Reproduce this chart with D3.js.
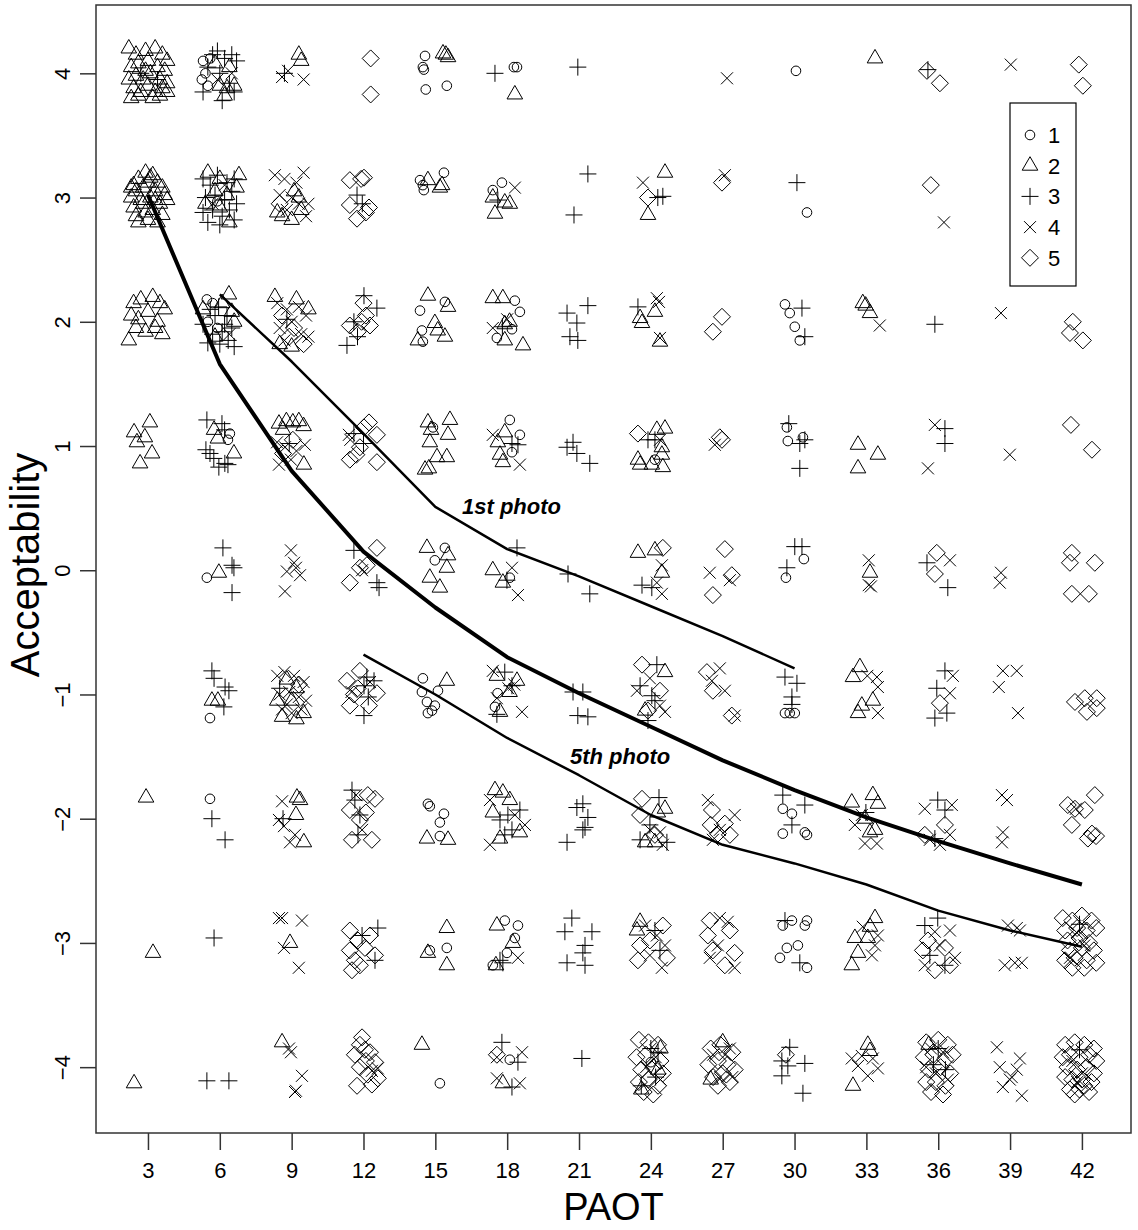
<!DOCTYPE html>
<html>
<head>
<meta charset="utf-8">
<script src="https://cdn.jsdelivr.net/npm/d3@7"></script>
<style>
  html, body { margin: 0; padding: 0; background: #fff; }
  svg { display: block; }
  text { font-family: "Liberation Sans", Arial, sans-serif; fill: #000; }
</style>
</head>
<body>
<svg id="chart" width="1138" height="1230"></svg>
<script>
// Axis ticks
const paotTicks = [3, 6, 9, 12, 15, 18, 21, 24, 27, 30, 33, 36, 39, 42];
const accTicks = [-4, -3, -2, -1, 0, 1, 2, 3, 4];

// Observations (PAOT, Acceptability), jittered, by respondent group
const group1 = [
  [5.3,4.1],[5.4,4.0],[5.25,3.95],[5.6,4.12],[5.5,3.9],[14.57,4.14],[14.48,4.05],[14.52,4.03],[14.6,3.87],[15.48,3.9],[18.28,4.05],[18.41,4.05],[30.06,4.02],
  [5.9,2.97],[14.36,3.14],[14.52,3.06],[14.48,3.1],[15.36,3.2],[17.4,3.06],[17.78,3.12],[30.52,2.88],
  [5.46,2.18],[5.7,2.15],[5.5,2.0],[5.9,1.95],[14.36,2.09],[15.4,2.16],[14.44,1.93],[14.48,1.84],[18.32,2.17],[18.2,1.94],[17.57,1.87],[18.53,2.08],[29.6,2.14],[29.8,2.07],[30.01,1.96],[30.22,1.85],
  [6.42,1.1],[6.34,1.05],[14.9,1.15],[18.11,1.21],[18.53,1.09],[18.2,0.95],[24.17,0.89],[29.68,1.15],[29.72,1.04],[30.35,1.07],
  [5.46,-0.06],[14.98,0.08],[15.4,0.18],[18.11,-0.06],[30.39,0.09],[29.64,-0.06],
  [5.59,-1.19],[14.48,-0.87],[14.44,-0.98],[14.65,-1.06],[14.69,-1.15],[14.98,-1.09],[15.11,-0.97],[14.86,-1.13],[17.6,-0.99],[17.49,-1.1],[29.6,-1.15],[30.01,-1.15],[29.8,-1.15],
  [5.59,-1.84],[14.69,-1.88],[15.36,-1.96],[15.19,-2.03],[14.77,-1.9],[15.19,-2.14],[29.51,-1.92],[29.89,-1.96],[29.51,-2.12],[30.52,-2.13],[30.43,-2.11],
  [15.48,-3.04],[14.77,-3.06],[17.9,-2.82],[18.45,-2.86],[18.32,-2.96],[17.99,-3.08],[17.4,-3.18],[29.51,-2.86],[29.89,-2.82],[30.52,-2.82],[30.43,-2.86],[30.14,-3.02],[29.68,-3.04],[29.39,-3.12],[30.52,-3.2],
  [15.19,-4.13],[18.11,-3.94],[24.0,-3.96]
];
const group2 = [
  [2.2,4.2],[2.5,4.15],[2.9,4.18],[3.3,4.2],[3.6,4.15],[3.8,4.1],[2.3,4.05],[2.6,4.08],[3.0,4.1],[3.4,4.05],[3.7,4.02],[2.2,3.95],[2.5,3.98],[2.8,3.95],[3.1,4.0],[3.5,3.95],[3.8,3.92],[2.4,3.88],[2.7,3.85],[3.0,3.9],[3.3,3.85],[3.6,3.88],[2.3,3.8],[2.6,3.82],[3.2,3.8],[3.5,3.82],[3.8,3.85],[2.9,4.02],
  [6.0,3.9],[6.3,3.88],[6.6,3.9],[5.8,4.08],[6.4,4.05],[6.2,3.82],[9.3,4.15],[9.4,4.1],[15.32,4.16],[15.53,4.13],[15.44,4.15],[18.32,3.83],[33.36,4.12],
  [2.4,3.1],[2.6,3.15],[2.9,3.2],[3.2,3.18],[3.4,3.12],[3.6,3.08],[2.3,3.0],[2.5,3.05],[2.8,3.08],[3.0,3.12],[3.3,3.05],[3.7,3.02],[2.4,2.92],[2.7,2.98],[3.1,3.0],[3.5,2.95],[3.8,2.98],[2.5,2.85],[2.9,2.88],[3.2,2.9],[3.6,2.86],[2.6,2.8],[3.0,2.82],[3.4,2.8],[2.3,3.08],[3.1,3.16],[2.8,2.95],[3.3,2.98],
  [5.5,3.2],[6.0,3.15],[6.8,3.18],[5.8,3.05],[6.3,3.02],[6.0,2.92],[6.7,3.08],[5.4,2.95],[6.4,2.8],[9.1,3.05],[9.3,3.0],[8.4,2.88],[8.6,2.85],[9.0,2.82],[9.4,2.9],
  [14.69,3.14],[15.28,3.1],[15.19,3.08],[17.4,3.0],[17.49,2.87],[17.9,2.96],[18.11,2.95],[24.59,3.2],[23.88,2.86],
  [2.4,2.15],[2.7,2.18],[3.2,2.2],[3.5,2.15],[3.7,2.1],[2.3,2.05],[2.6,2.02],[3.0,2.08],[3.4,2.0],[2.5,1.95],[2.9,1.92],[3.3,1.95],[3.6,1.9],[2.2,1.85],
  [6.38,2.22],[6.1,2.15],[5.3,2.1],[6.5,2.08],[5.8,1.88],[6.6,2.0],[8.3,2.2],[9.2,2.18],[9.7,2.1],[8.5,1.82],[9.0,1.8],
  [14.69,2.21],[15.53,2.12],[14.98,1.99],[15.1,1.93],[15.4,1.88],[14.27,1.85],[17.4,2.19],[17.82,2.19],[17.9,1.98],[18.1,2.0],[17.9,1.85],[18.66,1.81],
  [24.17,2.08],[23.63,1.99],[23.55,2.03],[24.38,1.84],[32.85,2.15],[33.15,2.07],[32.97,2.13],
  [3.08,1.19],[2.42,1.11],[2.87,1.07],[2.54,1.03],[3.17,0.94],[2.67,0.86],[5.76,1.13],[6.59,0.94],[5.92,1.06],
  [8.47,1.18],[8.78,1.2],[9.05,1.19],[9.3,1.2],[9.5,1.16],[8.64,1.13],[9.51,0.85],
  [14.69,1.19],[15.61,1.21],[15.53,1.09],[14.77,1.03],[15.07,0.91],[15.48,0.91],[14.57,0.81],[14.73,0.82],[14.82,1.13],
  [17.61,1.03],[17.9,1.11],[17.82,0.87],[17.7,0.93],[24.25,1.13],[24.59,1.14],[24.46,0.99],[24.46,0.93],[23.55,0.85],[24.04,0.85],[24.5,0.83],[23.46,0.89],[32.65,1.01],[33.48,0.93],[32.65,0.82],
  [5.96,-0.02],[14.65,0.18],[15.53,0.12],[15.48,0.02],[14.77,-0.06],[15.19,-0.14],[17.4,0.0],[17.82,-0.1],[23.46,0.14],[24.17,0.16],[24.46,-0.02],[33.15,-0.02],
  [5.67,-1.05],[5.92,-1.05],[8.8,-0.88],[9.2,-0.95],[8.4,-1.05],[9.0,-1.05],[9.5,-1.15],[8.6,-1.18],[9.2,-1.2],[15.48,-0.89],
  [17.57,-0.85],[18.1,-0.98],[17.7,-1.14],[18.41,-0.89],[24.59,-0.82],[23.76,-1.13],[32.73,-0.78],[32.44,-0.86],[33.27,-1.05],[32.81,-1.09],[32.65,-1.15],
  [2.92,-1.83],[9.22,-1.83],[9.35,-1.85],[9.18,-1.97],[9.51,-2.19],[14.65,-2.16],[15.53,-2.17],[17.49,-1.77],[17.82,-1.79],[18.11,-1.85],[17.4,-1.95],[18.53,-2.11],[17.7,-2.16],
  [24.59,-1.92],[24.29,-1.95],[23.76,-2.19],[24.17,-2.19],[32.39,-1.87],[33.27,-1.81],[33.48,-1.88],[32.94,-2.0],[33.15,-2.11],[33.36,-2.09],
  [3.21,-3.08],[8.93,-3.0],[15.48,-2.88],[14.69,-3.08],[15.48,-3.18],[17.57,-2.86],[18.24,-3.0],[17.53,-3.18],[23.55,-2.83],[23.42,-2.9],
  [33.36,-2.8],[33.15,-2.87],[32.52,-2.96],[33.06,-2.96],[32.39,-3.18],[32.65,-3.08],
  [2.42,-4.13],[8.6,-3.8],[14.44,-3.82],[17.82,-4.13],[24.4,-3.85],[23.6,-4.18],[24.3,-4.02],[27.0,-3.8],[26.5,-4.1],[33.06,-3.82],[32.44,-4.15],[33.15,-3.87],[35.6,-3.82]
];
const group3 = [
  [2.7,4.0],[3.4,3.95],[5.7,4.15],[6.2,4.12],[6.5,4.15],[6.7,4.1],[5.5,4.05],[6.0,4.0],[5.3,3.85],[6.4,3.92],[6.1,3.78],[6.6,3.85],[5.9,4.18],[8.7,4.0],[17.49,4.0],[20.95,4.05],[35.57,4.03],
  [5.3,3.15],[5.6,3.1],[5.9,3.18],[6.3,3.12],[6.6,3.15],[5.4,3.0],[5.8,3.02],[6.2,2.98],[6.5,3.05],[5.3,2.88],[5.7,2.9],[6.1,2.85],[6.4,2.9],[6.7,2.95],[5.5,2.8],[6.0,2.78],[6.6,2.82],
  [11.73,3.02],[11.95,2.95],[17.61,2.98],[21.37,3.19],[20.79,2.86],[24.29,3.0],[24.5,3.01],[30.1,3.12],
  [5.6,2.1],[5.95,2.12],[6.3,2.05],[5.3,1.98],[5.7,1.9],[6.1,1.92],[6.5,1.95],[5.5,1.83],[6.0,1.82],[6.35,1.85],[6.6,1.8],[5.8,2.05],[6.2,1.98],[8.8,2.02],
  [12.02,2.21],[12.56,2.11],[11.6,2.0],[11.31,1.81],[11.75,1.88],[17.8,1.96],[20.5,2.07],[21.37,2.13],[20.91,1.99],[20.62,1.88],[20.95,1.85],[23.46,2.12],[30.31,2.11],[30.43,1.88],[35.86,1.98],
  [5.46,1.21],[6.09,1.18],[6.2,1.13],[5.59,0.94],[5.75,0.9],[6.21,0.86],[6.34,0.85],[5.96,0.83],[5.42,0.97],[8.9,1.02],[11.6,1.1],[12.0,1.02],[18.45,1.01],[18.2,1.02],
  [20.75,1.03],[20.5,0.99],[20.91,0.94],[21.45,0.86],[23.88,1.05],[24.17,1.05],[29.76,1.18],[30.22,1.02],[30.22,0.82],[30.43,1.05],[36.28,1.14],[36.28,1.02],
  [6.13,0.18],[6.51,0.04],[6.59,0.02],[6.51,-0.18],[11.6,0.16],[12.56,-0.1],[12.65,-0.14],[17.99,-0.08],[18.41,0.18],[20.54,-0.03],[21.45,-0.19],[23.63,-0.12],[24.04,-0.14],[30.01,0.19],[30.31,0.19],[29.68,0.02],[35.53,0.06],[36.4,-0.14],
  [5.67,-0.81],[5.76,-0.87],[6.22,-0.94],[6.38,-0.97],[6.17,-1.1],[8.5,-0.95],[12.44,-0.89],[12.02,-0.93],[12.2,-1.02],[12.02,-1.17],[12.14,-0.86],[17.9,-0.82],[18.2,-0.93],[17.57,-1.16],
  [20.75,-0.98],[21.16,-0.98],[20.95,-1.17],[21.37,-1.18],[24.25,-0.76],[23.55,-0.93],[24.04,-1.01],[23.88,-1.21],[24.17,-1.05],[29.6,-0.86],[30.1,-0.91],[29.89,-1.02],[29.89,-1.08],[36.28,-0.81],[35.94,-0.95],[36.36,-1.15],[35.86,-1.19],
  [5.67,-2.0],[6.22,-2.17],[8.64,-2.0],[11.52,-1.77],[11.64,-1.85],[11.85,-1.97],[11.77,-2.13],[17.7,-2.01],[18.03,-1.97],[18.53,-1.93],[17.9,-2.13],[18.2,-2.09],
  [21.16,-1.88],[20.91,-1.91],[21.37,-1.99],[21.25,-2.07],[21.16,-2.09],[20.5,-2.19],[24.34,-1.83],[23.96,-2.05],[24.67,-2.19],[23.55,-2.17],[29.51,-1.81],[30.43,-1.89],[29.89,-2.05],[32.98,-1.95],[35.98,-1.85],[36.28,-1.93],[35.86,-2.16],
  [5.76,-2.96],[12.6,-2.88],[12.48,-3.14],[11.94,-2.94],[17.82,-3.16],[17.7,-3.14],[20.7,-2.8],[20.41,-2.91],[21.54,-2.91],[21.25,-3.02],[21.16,-3.08],[20.5,-3.16],[21.25,-3.18],
  [24.17,-2.9],[24.38,-3.06],[29.6,-2.82],[30.22,-3.16],[35.44,-2.86],[35.98,-2.8],[35.65,-3.1],[36.28,-3.18],[41.9,-2.85],
  [5.46,-4.11],[6.38,-4.11],[17.78,-3.8],[18.45,-3.96],[18.2,-4.16],[21.12,-3.93],[24.0,-3.85],[24.3,-3.88],[23.6,-4.15],[24.2,-4.08],
  [29.8,-3.84],[29.47,-3.95],[30.43,-3.97],[29.47,-4.07],[30.35,-4.21],[29.72,-3.99],[36.0,-3.85],[35.8,-3.98],[36.3,-4.02],[41.9,-3.86]
];
const group4 = [
  [6.5,4.0],[5.9,3.95],[8.6,3.97],[8.85,4.02],[9.5,3.95],[27.18,3.96],[39.03,4.07],
  [6.2,3.1],[5.7,2.95],[8.3,3.18],[8.7,3.15],[9.2,3.12],[9.5,3.2],[8.5,3.02],[9.0,3.0],[9.3,2.95],[9.6,2.85],[8.8,2.9],[9.7,2.95],[18.32,3.08],[23.67,3.12],[27.09,3.18],[36.24,2.8],
  [6.4,1.9],[8.4,2.15],[8.8,2.1],[9.3,2.12],[9.6,2.05],[8.5,1.95],[9.0,2.0],[9.4,1.9],[8.7,1.85],[9.7,1.88],[17.4,1.95],[18.0,2.02],[24.25,2.19],[24.34,2.16],[24.38,1.87],[33.56,1.97],[38.62,2.07],
  [8.39,1.03],[8.72,0.99],[9.2,0.96],[9.55,1.01],[8.47,0.85],[8.97,0.89],[11.39,1.09],[11.45,1.05],[17.4,1.09],[18.53,0.85],[24.38,1.05],[26.67,1.01],[35.86,1.17],[35.57,0.82],[38.99,0.93],
  [8.97,0.16],[9.1,0.06],[8.8,-0.01],[9.35,-0.04],[8.72,-0.17],[9.18,0.02],[11.94,0.0],[18.2,0.02],[18.45,-0.2],[24.46,0.04],[24.46,-0.19],[24.25,-0.1],[26.46,-0.02],[27.3,-0.08],
  [33.1,0.08],[33.1,-0.12],[33.19,-0.13],[36.49,0.08],[38.62,-0.02],[38.57,-0.1],
  [8.4,-0.85],[8.7,-0.82],[9.1,-0.85],[9.5,-0.9],[8.5,-1.0],[8.9,-0.98],[9.3,-1.02],[9.6,-1.05],[8.6,-1.12],[9.0,-1.15],[9.4,-1.12],[8.8,-1.08],[12.27,-0.9],[11.5,-0.98],
  [17.4,-0.81],[18.05,-0.95],[18.3,-0.92],[17.57,-1.03],[18.62,-1.14],[23.42,-0.97],[24.38,-1.09],[24.59,-1.14],[23.96,-0.87],[26.88,-0.79],[27.09,-0.97],[27.5,-1.17],[26.55,-0.89],
  [33.44,-0.86],[33.48,-0.94],[33.48,-1.15],[33.04,-0.85],[36.61,-0.85],[36.49,-0.99],[38.7,-0.81],[39.28,-0.81],[38.53,-0.94],[39.33,-1.15],
  [8.6,-1.86],[8.47,-2.01],[8.68,-2.06],[8.93,-2.19],[9.14,-2.13],[11.69,-1.81],[11.94,-2.09],[17.28,-1.85],[18.32,-1.97],[17.28,-2.21],[18.74,-2.05],[23.96,-2.09],[24.38,-2.11],[24.5,-2.21],
  [26.38,-1.85],[27.5,-1.97],[26.88,-2.09],[26.59,-2.17],[32.81,-1.97],[32.94,-2.2],[33.44,-2.2],[32.52,-2.05],[35.44,-1.92],[36.57,-1.89],[36.49,-2.13],[36.07,-2.21],[35.65,-2.17],
  [38.66,-1.81],[38.87,-1.85],[38.7,-2.11],[38.66,-2.19],[41.75,-1.92],
  [8.47,-2.8],[9.43,-2.82],[8.68,-3.04],[9.3,-3.2],[8.6,-2.8],[18.45,-3.12],[23.76,-2.86],[24.25,-2.94],[24.59,-3.02],[23.96,-3.1],[24.46,-3.2],
  [26.88,-2.8],[27.21,-2.83],[26.8,-3.02],[27.5,-3.2],[26.46,-3.12],[32.85,-2.87],[33.36,-3.02],[33.48,-2.94],[33.23,-3.1],[35.86,-2.91],[36.49,-2.9],[36.07,-3.02],[36.7,-3.12],[35.44,-3.18],
  [38.91,-2.86],[39.28,-2.88],[39.41,-2.9],[38.78,-3.18],[39.2,-3.16],[39.49,-3.16],[41.8,-2.92],[42.1,-3.02],[41.5,-3.12],
  [8.89,-3.85],[8.97,-3.88],[9.43,-4.07],[9.14,-4.2],[9.18,-4.19],[12.35,-4.03],[12.6,-4.01],[17.57,-3.92],[18.62,-3.88],[17.57,-4.09],[18.53,-4.13],[24.2,-3.92],[23.8,-4.0],[24.4,-4.1],
  [26.6,-3.9],[27.1,-3.9],[27.3,-3.85],[26.9,-4.08],[27.4,-4.08],[32.39,-3.93],[33.06,-4.07],[32.65,-3.99],[33.27,-3.93],[32.81,-3.91],[33.48,-4.01],
  [35.7,-3.85],[36.2,-3.88],[35.9,-4.05],[36.4,-4.1],[35.5,-4.0],[38.45,-3.84],[39.41,-3.93],[38.57,-4.0],[39.07,-4.08],[39.49,-4.23],[38.7,-4.16],[38.99,-4.1],[39.28,-4.02],
  [41.6,-3.95],[42.0,-4.05],[41.8,-4.12]
];
const group5 = [
  [12.3,4.12],[12.3,3.83],[35.53,4.02],[36.07,3.92],[41.87,4.07],[42.04,3.9],
  [8.5,2.95],[11.43,3.14],[12.02,3.16],[11.9,3.15],[11.43,2.94],[12.23,2.92],[11.73,2.83],[12.1,2.88],[23.88,3.0],[26.97,3.12],[35.69,3.1],
  [8.6,2.05],[9.1,1.95],[9.5,1.82],[8.9,1.88],[11.43,1.97],[11.92,2.0],[12.27,1.97],[12.1,2.05],[11.76,1.92],[12.0,2.15],[26.97,2.04],[26.59,1.92],[41.62,2.0],[41.5,1.91],[42.04,1.85],
  [9.05,1.05],[8.64,0.94],[12.23,1.19],[12.02,1.15],[12.56,1.09],[11.7,0.93],[11.43,0.89],[12.56,0.87],[11.85,0.99],[23.46,1.1],[26.88,1.07],[26.97,1.05],[41.54,1.17],[42.42,0.97],
  [12.56,0.18],[12.14,0.04],[11.85,0.02],[11.43,-0.1],[24.5,0.18],[27.09,0.17],[27.38,-0.04],[26.59,-0.2],[35.94,0.14],[35.86,-0.03],[41.58,0.14],[41.5,0.06],[42.54,0.06],[41.58,-0.19],[42.29,-0.19],
  [9.3,-0.92],[11.31,-0.89],[11.85,-0.81],[12.56,-0.99],[11.43,-1.09],[12.23,-1.09],[11.76,-0.95],[11.6,-1.0],[23.63,-0.76],[24.38,-0.97],[23.88,-1.13],[26.34,-0.82],[26.59,-0.97],[27.38,-1.17],
  [36.07,-1.07],[41.71,-1.06],[42.12,-1.03],[42.62,-1.03],[42.21,-1.14],[42.62,-1.11],
  [12.18,-1.81],[12.48,-1.84],[11.43,-1.93],[11.85,-2.01],[11.52,-2.17],[12.35,-2.17],[12.1,-1.95],[23.63,-1.84],[23.55,-1.97],[24.17,-2.13],[26.55,-1.93],[27.09,-2.04],[27.3,-2.13],[26.8,-2.12],[26.5,-2.05],
  [35.44,-2.13],[36.28,-2.05],[42.54,-1.81],[41.41,-1.89],[41.71,-1.92],[42.12,-1.93],[41.58,-2.05],[42.42,-2.12],[42.25,-2.16],[42.59,-2.14],
  [11.43,-2.9],[11.77,-2.98],[11.43,-3.06],[11.64,-3.14],[11.52,-3.22],[12.27,-2.94],[12.06,-3.04],[12.48,-3.1],[11.85,-3.18],[24.5,-2.86],[23.55,-3.02],[23.96,-2.98],[23.46,-3.14],[24.67,-3.12],
  [26.46,-2.82],[26.38,-2.94],[26.59,-3.06],[27.5,-3.08],[27.09,-3.18],[27.3,-2.9],[35.57,-2.98],[36.28,-3.04],[35.86,-3.22],[36.49,-3.18],[35.36,-3.06],
  [41.2,-2.8],[41.6,-2.82],[42.0,-2.78],[42.4,-2.82],[41.3,-2.9],[41.8,-2.88],[42.2,-2.9],[42.6,-2.88],[41.4,-2.98],[41.9,-2.96],[42.3,-3.0],[41.5,-3.06],[42.0,-3.04],[42.5,-3.06],[41.3,-3.14],[41.7,-3.12],[42.2,-3.14],[42.6,-3.16],[41.6,-3.2],[42.1,-3.2],
  [11.94,-3.76],[11.85,-3.82],[12.06,-3.86],[11.64,-3.9],[12.27,-3.88],[12.48,-3.96],[11.85,-4.0],[12.18,-4.06],[12.6,-4.09],[11.73,-4.15],[12.35,-4.14],[12.1,-3.95],[17.57,-3.9],
  [23.5,-3.78],[23.9,-3.8],[24.3,-3.82],[23.4,-3.92],[23.8,-3.9],[24.4,-3.95],[23.6,-4.02],[24.1,-4.0],[24.5,-4.05],[23.5,-4.12],[23.9,-4.1],[24.3,-4.15],[23.7,-4.2],[24.1,-4.22],
  [26.5,-3.85],[26.9,-3.82],[27.4,-3.88],[26.4,-3.98],[26.8,-3.95],[27.2,-3.98],[27.5,-4.02],[26.6,-4.08],[27.0,-4.05],[27.3,-4.12],[26.8,-4.15],[29.64,-3.9],
  [35.5,-3.8],[36.0,-3.78],[36.4,-3.82],[35.4,-3.92],[35.8,-3.9],[36.3,-3.94],[36.6,-3.9],[35.6,-4.02],[36.1,-4.0],[36.5,-4.05],[35.5,-4.12],[35.9,-4.12],[36.3,-4.15],[35.7,-4.2],[36.2,-4.22],
  [41.3,-3.82],[41.7,-3.8],[42.1,-3.82],[42.5,-3.85],[41.2,-3.92],[41.5,-3.9],[41.9,-3.92],[42.3,-3.9],[42.6,-3.95],[41.4,-4.0],[41.8,-4.02],[42.2,-4.0],[42.5,-4.05],[41.3,-4.08],[41.6,-4.1],[42.0,-4.1],[42.4,-4.12],[41.5,-4.18],[41.9,-4.18],[42.3,-4.2],[41.7,-4.22],[42.1,-4.15]
];

// Fitted acceptability curves
const curveAll = [[3,3.02],[6,1.66],[9,0.8],[12,0.15],[15,-0.3],[18,-0.7],[21,-0.99],[24,-1.26],[27,-1.53],[30,-1.77],[33,-1.99],[36,-2.18],[39,-2.36],[42,-2.53]];
const curveFirst = [[6,2.22],[9,1.68],[12,1.1],[15,0.51],[18,0.17],[21,-0.05],[24,-0.29],[27,-0.53],[30,-0.79]];
const curveFifth = [[12,-0.68],[15,-1.0],[18,-1.35],[21,-1.65],[24,-1.97],[27,-2.21],[30,-2.36],[33,-2.53],[36,-2.74],[39,-2.9],[42,-3.03]];

const legendLabels = ["1", "2", "3", "4", "5"];

// Layout
const box = { left: 96, top: 5, right: 1131, bottom: 1133 };
const svg = d3.select("#chart");

const x = d3.scaleLinear().domain([0.83, 44.05]).range([box.left, box.right]);
const y = d3.scaleLinear().domain([-4.53, 4.55]).range([box.bottom, box.top]);

// Marker outlines, one per group
const shapes = [
  { type: "circle" },
  { type: "path", d: "M0,-9L7.8,4.5L-7.8,4.5Z" },
  { type: "path", d: "M-8.5,0H8.5M0,-8.5V8.5" },
  { type: "path", d: "M-6,-6L6,6M-6,6L6,-6" },
  { type: "path", d: "M0,-8.5L8.5,0L0,8.5L-8.5,0Z" }
];

function drawMarker(sel, shape) {
  if (shape.type === "circle") {
    sel.append("circle").attr("r", 4.8);
  } else {
    sel.append("path").attr("d", shape.d);
  }
}

// Points
const groups = [group1, group2, group3, group4, group5];
const pts = svg.append("g")
  .attr("fill", "none").attr("stroke", "#000").attr("stroke-width", 1);
groups.forEach((data, gi) => {
  const g = pts.append("g");
  data.forEach(d => {
    const m = g.append("g").attr("transform", `translate(${x(d[0])},${y(d[1])})`);
    drawMarker(m, shapes[gi]);
  });
});

// Curves
const line = d3.line().x(d => x(d[0])).y(d => y(d[1]));
svg.append("path").datum(curveAll).attr("d", line)
  .attr("fill", "none").attr("stroke", "#000").attr("stroke-width", 4).attr("stroke-linejoin", "round");
svg.append("path").datum(curveFirst).attr("d", line)
  .attr("fill", "none").attr("stroke", "#000").attr("stroke-width", 2.5).attr("stroke-linejoin", "round");
svg.append("path").datum(curveFifth).attr("d", line)
  .attr("fill", "none").attr("stroke", "#000").attr("stroke-width", 2.5).attr("stroke-linejoin", "round");

// Curve annotations
svg.append("text").attr("x", 462).attr("y", 514)
  .attr("font-size", 22).attr("font-weight", "bold").attr("font-style", "italic")
  .text("1st photo");
svg.append("text").attr("x", 570).attr("y", 764)
  .attr("font-size", 22).attr("font-weight", "bold").attr("font-style", "italic")
  .text("5th photo");

// Frame
svg.append("rect")
  .attr("x", box.left).attr("y", box.top)
  .attr("width", box.right - box.left).attr("height", box.bottom - box.top)
  .attr("fill", "none").attr("stroke", "#333").attr("stroke-width", 1.5);

// Axes
const xAxis = svg.append("g").attr("transform", `translate(0,${box.bottom})`)
  .call(d3.axisBottom(x).tickValues(paotTicks).tickSize(17).tickPadding(12).tickFormat(d3.format("d")));
xAxis.select(".domain").remove();
xAxis.selectAll("line").attr("stroke", "#333").attr("stroke-width", 1.5);
xAxis.selectAll("text").attr("font-size", 22).attr("font-family", "Liberation Sans, Arial, sans-serif").attr("fill", "#000");

const yAxis = svg.append("g").attr("transform", `translate(${box.left},0)`)
  .call(d3.axisLeft(y).tickValues(accTicks).tickSize(16).tickFormat(d3.format("d")));
yAxis.select(".domain").remove();
yAxis.selectAll("line").attr("stroke", "#333").attr("stroke-width", 1.5);
yAxis.selectAll("text")
  .attr("font-size", 22).attr("font-family", "Liberation Sans, Arial, sans-serif").attr("fill", "#000")
  .attr("x", 0).attr("dy", 0)
  .attr("text-anchor", "middle")
  .attr("transform", "translate(-26,0) rotate(-90)");

// Axis titles
svg.append("text").attr("x", (box.left + box.right) / 2).attr("y", 1220)
  .attr("text-anchor", "middle").attr("font-size", 38).text("PAOT");
svg.append("text")
  .attr("transform", `translate(39,565) rotate(-90)`)
  .attr("text-anchor", "middle").attr("font-size", 40).text("Acceptability");

// Legend
const legend = svg.append("g");
legend.append("rect").attr("x", 1010).attr("y", 103).attr("width", 66).attr("height", 183)
  .attr("fill", "#fff").attr("stroke", "#000").attr("stroke-width", 1.2);
legendLabels.forEach((lab, i) => {
  const cy = 135 + i * 30.7;
  const m = legend.append("g").attr("transform", `translate(1030,${cy})`)
    .attr("fill", "none").attr("stroke", "#000").attr("stroke-width", 1);
  drawMarker(m, shapes[i]);
  legend.append("text").attr("x", 1048).attr("y", cy).attr("dy", "0.36em")
    .attr("font-size", 22).text(lab);
});
</script>
</body>
</html>
